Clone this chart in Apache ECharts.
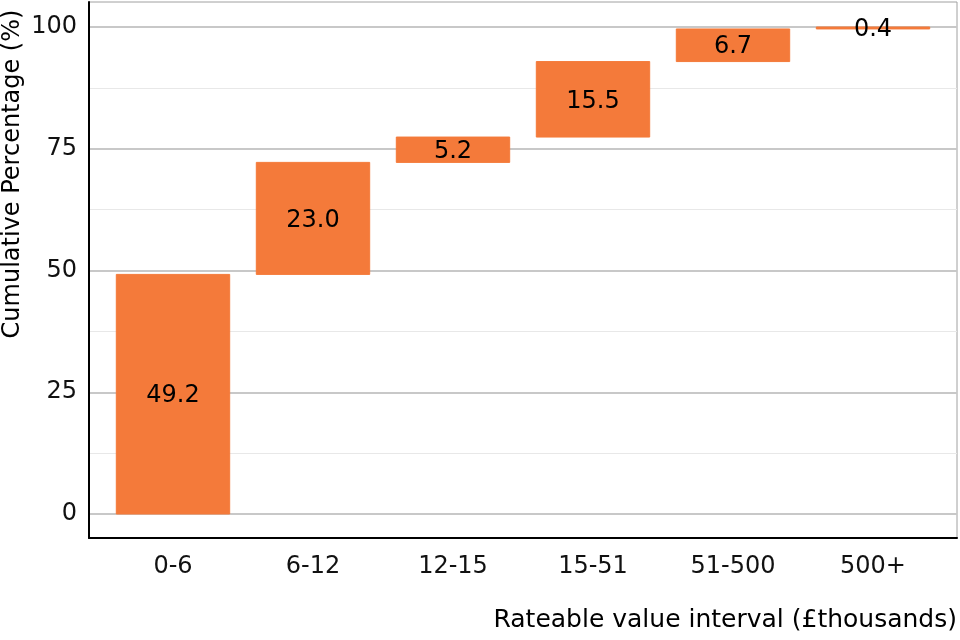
<!DOCTYPE html>
<html>
<head>
<meta charset="utf-8">
<script src="https://cdn.jsdelivr.net/npm/echarts@6/dist/echarts.min.js"></script>
<style>
html,body{margin:0;padding:0;background:#fff;}
#chart{width:960px;height:640px;}
</style>
</head>
<body>
<div id="chart"></div>
<script>
// Data
var categories = ['0-6', '6-12', '12-15', '15-51', '51-500', '500+'];
var shares = [49.2, 23.0, 5.2, 15.5, 6.7, 0.4];          // bar heights (percentage points)
var starts = [0, 49.2, 72.2, 77.4, 92.9, 99.6];          // cumulative start of each bar
var yTicks = [0, 25, 50, 75, 100];
var xPositions = [1, 2, 3, 4, 5, 6];                     // category slots on the x scale

var FONT = 'DejaVu Sans';
var BAR = '#F47A3A';
var HALF_W = 0.405;

var chart = echarts.init(document.getElementById('chart'), null, {renderer: 'canvas'});

var wfData = categories.map(function (c, i) {
  return [xPositions[i], starts[i], starts[i] + shares[i], shares[i]];
});

var option = {
  animation: false,
  backgroundColor: '#ffffff',
  textStyle: {fontFamily: FONT},
  grid: [
    // data grid: y 0..100
    {left: 89, right: 3, top: 27, bottom: 126, containLabel: false},
    // frame grid: whole panel
    {left: 89, right: 3, top: 2, bottom: 102, show: true, borderColor: '#a0a0a0', borderWidth: 1, backgroundColor: 'transparent'}
  ],
  xAxis: [
    {
      type: 'value', gridIndex: 0, min: 0.4, max: 6.6,
      axisLine: {show: false}, axisTick: {show: false}, splitLine: {show: false},
      axisLabel: {
        color: '#111', fontSize: 24, fontFamily: FONT, margin: 41,
        customValues: xPositions,
        formatter: function (v) { return categories[Math.round(v) - 1]; }
      }
    },
    {
      type: 'value', gridIndex: 1, min: 0, max: 1,
      axisLine: {show: true, onZero: false, lineStyle: {color: '#000', width: 2}},
      axisTick: {show: false}, axisLabel: {show: false}, splitLine: {show: false}
    }
  ],
  yAxis: [
    {
      type: 'value', gridIndex: 0, min: yTicks[0], max: yTicks[yTicks.length - 1], interval: 25,
      axisLine: {show: false}, axisTick: {show: false},
      axisLabel: {color: '#111', fontSize: 24, fontFamily: FONT, margin: 12, padding: [4, 0, 0, 0]},
      splitLine: {show: true, lineStyle: {color: '#c8c8c8', width: 1.8}},
      minorTick: {show: false, splitNumber: 2},
      minorSplitLine: {show: true, lineStyle: {color: '#e8e8e8', width: 1}}
    },
    {
      type: 'value', gridIndex: 1, min: 0, max: 1,
      axisLine: {show: true, onZero: false, lineStyle: {color: '#000', width: 2}},
      axisTick: {show: false}, axisLabel: {show: false}, splitLine: {show: false}
    }
  ],
  series: [
    {
      type: 'custom', xAxisIndex: 0, yAxisIndex: 0,
      encode: {x: 0, y: [1, 2]},
      data: wfData,
      renderItem: function (params, api) {
        var x = api.value(0), s = api.value(1), e = api.value(2), v = api.value(3);
        var p0 = api.coord([x - HALF_W, e]);
        var p1 = api.coord([x + HALF_W, s]);
        return {
          type: 'rect',
          shape: {x: p0[0], y: p0[1], width: p1[0] - p0[0], height: p1[1] - p0[1]},
          style: {fill: BAR, stroke: BAR, lineWidth: 1},
          textContent: {
            style: {text: v.toFixed(1), fontSize: 24, fontFamily: FONT, fill: '#000'}
          },
          textConfig: {position: 'inside', offset: [0, 2]}
        };
      }
    }
  ],
  graphic: [
    {
      type: 'text', x: 13, y: 174, rotation: Math.PI / 2,
      style: {text: 'Cumulative Percentage (%)', fontSize: 24, fontFamily: FONT, fill: '#000', align: 'center', verticalAlign: 'middle'}
    },
    {
      type: 'text', x: 957, y: 620,
      style: {text: 'Rateable value interval (£thousands)', fontSize: 25, fontFamily: FONT, fill: '#000', align: 'right', verticalAlign: 'middle'}
    }
  ]
};
chart.setOption(option);
</script>
</body>
</html>
